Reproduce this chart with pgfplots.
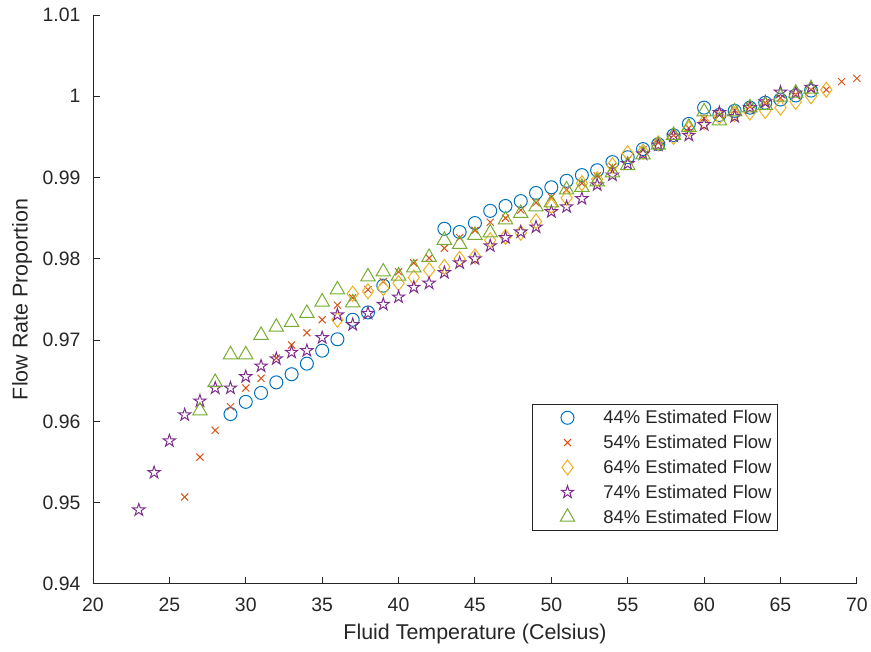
\documentclass[border=0pt]{standalone}
\usepackage{pgfplots}
\pgfplotsset{compat=1.18}
\usepackage{fontspec}
\setmainfont{Liberation Sans}

\definecolor{axgray}{RGB}{38,38,38}
\definecolor{c44}{RGB}{0,114,189}
\definecolor{c54}{RGB}{217,83,25}
\definecolor{c64}{RGB}{237,177,32}
\definecolor{c74}{RGB}{126,47,142}
\definecolor{c84}{RGB}{119,172,48}

% outlined five-pointed star
\pgfdeclareplotmark{pentagram}{%
  \pgfpathmoveto{\pgfpointpolar{90}{\pgfplotmarksize}}%
  \pgfpathlineto{\pgfpointpolar{126}{0.382\pgfplotmarksize}}%
  \pgfpathlineto{\pgfpointpolar{162}{\pgfplotmarksize}}%
  \pgfpathlineto{\pgfpointpolar{198}{0.382\pgfplotmarksize}}%
  \pgfpathlineto{\pgfpointpolar{234}{\pgfplotmarksize}}%
  \pgfpathlineto{\pgfpointpolar{270}{0.382\pgfplotmarksize}}%
  \pgfpathlineto{\pgfpointpolar{306}{\pgfplotmarksize}}%
  \pgfpathlineto{\pgfpointpolar{342}{0.382\pgfplotmarksize}}%
  \pgfpathlineto{\pgfpointpolar{18}{\pgfplotmarksize}}%
  \pgfpathlineto{\pgfpointpolar{54}{0.382\pgfplotmarksize}}%
  \pgfpathclose\pgfusepathqstroke}

\begin{document}
\begin{tikzpicture}
\begin{axis}[
  width=764bp, height=569bp, scale only axis,
  xmin=20, xmax=70, ymin=0.94, ymax=1.01,
  axis x line*=bottom, axis y line*=left,
  axis line style={draw=axgray, line width=0.9bp, -},
  xtick={20,25,30,35,40,45,50,55,60,65,70},
  xticklabels={20,25,30,35,40,45,50,55,60,65,70},
  ytick={0.94,0.95,0.96,0.97,0.98,0.99,1,1.01},
  yticklabels={0.94,0.95,0.96,0.97,0.98,0.99,1,1.01},
  tick align=inside, major tick length=7bp,
  tick style={draw=axgray, line width=0.9bp},
  ticklabel style={font=\fontsize{19.5}{23}\selectfont, text=axgray},
  xticklabel style={anchor=north, yshift=-10.5bp},
  yticklabel style={anchor=east, xshift=-9bp},
  xlabel={Fluid Temperature (Celsius)},
  ylabel={Flow Rate Proportion},
  every axis x label/.style={at={(axis description cs:0.5,0)},
    yshift=-50bp, anchor=center},
  every axis y label/.style={at={(axis description cs:0,0.5)},
    xshift=-71bp, rotate=90, anchor=center},
  label style={font=\fontsize{21.5}{25}\selectfont, text=axgray},
  every axis plot/.append style={line width=1bp},
  legend style={at={(0.8966,0.0931)}, anchor=south east,
    draw=axgray, line width=0.9bp, fill=white,
    font=\fontsize{18.5}{22}\selectfont, text=axgray,
    inner xsep=4bp, inner ysep=4bp, row sep=6bp},
  legend cell align=left,
  legend image code/.code={%
    \path[draw=none, fill=none] (0bp,-6bp) rectangle (65bp,6bp);
    \draw[#1] plot coordinates {(31bp,0bp)};},
  clip=false,
]
\coordinate (origin) at (rel axis cs:0,0);
\addplot[only marks, mark=o, mark size=6.5bp, color=c44] table {
29 0.9609
30 0.9624
31 0.9635
32 0.9648
33 0.9658
34 0.9671
35 0.9687
36 0.9701
37 0.9725
38 0.9734
39 0.9767
43 0.9837
44 0.9833
45 0.9844
46 0.9859
47 0.9865
48 0.9871
49 0.9881
50 0.9888
51 0.9896
52 0.9903
53 0.9909
54 0.9919
55 0.9925
56 0.9935
57 0.9941
58 0.9952
59 0.9966
60 0.9986
61 0.9977
62 0.9982
63 0.9986
64 0.9992
65 0.9996
66 1.0001
67 1.0007
};
\addlegendentry{44\% Estimated Flow}
\addplot[only marks, mark=x, mark size=5bp, color=c54] table {
26 0.9507
27 0.9556
28 0.9589
29 0.9618
30 0.9641
31 0.9653
32 0.9678
33 0.9694
34 0.9709
35 0.9725
36 0.9743
37 0.9752
38 0.9762
39 0.9772
40 0.9784
41 0.9795
42 0.9801
43 0.9813
44 0.9826
45 0.9835
46 0.9845
47 0.9850
48 0.9860
49 0.9869
50 0.9876
51 0.9885
52 0.9893
53 0.9902
54 0.9913
55 0.9922
56 0.9934
57 0.9943
58 0.9952
59 0.9961
60 0.9973
61 0.9977
62 0.9983
63 0.9987
64 0.9992
65 0.9998
66 1.0002
67 1.0008
68 1.0008
69 1.0018
70 1.0022
};
\addlegendentry{54\% Estimated Flow}
\addplot[only marks, mark=diamond, mark size=7.5bp, color=c64] table {
36 0.9725
37 0.9757
38 0.9760
39 0.9764
40 0.9770
41 0.9777
42 0.9786
43 0.9790
44 0.9800
45 0.9803
46 0.9823
47 0.9827
48 0.9832
49 0.9846
50 0.9865
51 0.9875
52 0.9893
53 0.9898
54 0.9915
55 0.9930
56 0.9932
57 0.9942
58 0.9950
59 0.9960
60 0.9968
61 0.9975
62 0.9978
63 0.9980
64 0.9982
65 0.9986
66 0.9993
67 1.0000
68 1.0008
};
\addlegendentry{64\% Estimated Flow}
\addplot[only marks, mark=pentagram, mark size=6.5bp, color=c74] table {
23 0.9491
24 0.9537
25 0.9576
26 0.9608
27 0.9625
28 0.9641
29 0.9641
30 0.9655
31 0.9668
32 0.9677
33 0.9685
34 0.9687
35 0.9703
36 0.9731
37 0.9719
38 0.9733
39 0.9744
40 0.9753
41 0.9765
42 0.9770
43 0.9783
44 0.9795
45 0.9800
46 0.9816
47 0.9826
48 0.9833
49 0.9839
50 0.9858
51 0.9864
52 0.9874
53 0.9891
54 0.9903
55 0.9917
56 0.9929
57 0.9940
58 0.9951
59 0.9952
60 0.9965
61 0.9980
62 0.9975
63 0.9986
64 0.9993
65 1.0005
66 1.0004
67 1.0011
};
\addlegendentry{74\% Estimated Flow}
\addplot[only marks, mark=triangle, mark size=8.3bp, color=c84] table {
27 0.9613
28 0.9648
29 0.9682
30 0.9682
31 0.9706
32 0.9716
33 0.9722
34 0.9733
35 0.9747
36 0.9762
37 0.9746
38 0.9778
39 0.9784
40 0.9779
41 0.9789
42 0.9802
43 0.9823
44 0.9818
45 0.9829
46 0.9832
47 0.9848
48 0.9856
49 0.9864
50 0.9869
51 0.9885
52 0.9888
53 0.9895
54 0.9906
55 0.9915
56 0.9928
57 0.9940
58 0.9952
59 0.9962
60 0.9981
61 0.9970
62 0.9981
63 0.9986
64 0.9989
65 0.9999
66 1.0004
67 1.0009
};
\addlegendentry{84\% Estimated Flow}
\end{axis}
% page frame around the axis and its labels
\path (origin) ++(-93bp,-68bp) rectangle ++(871bp,652bp);
\end{tikzpicture}
\end{document}
